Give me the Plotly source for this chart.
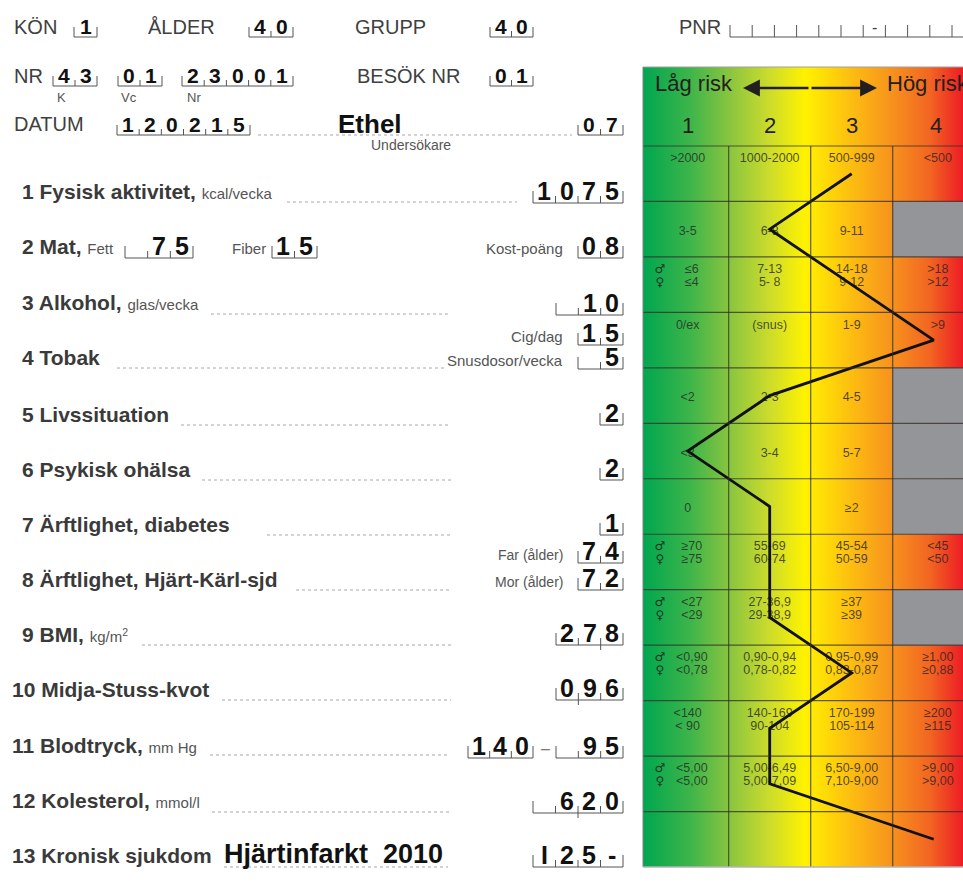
import plotly.graph_objects as go
import numpy as np

W, H = 963, 889
FONT = "Liberation Sans, Arial, Helvetica, sans-serif"
SYM_FONT = "DejaVu Sans, sans-serif"

# ---------------- data ----------------
# header fields
kon, alder, grupp = "1", "40", "40"
nr_k, nr_vc, nr_nr = "43", "01", "23001"
besok_nr = "01"
datum = "120215"
undersokare, undersokare_kod = "Ethel", "07"

# factor rows (1..13) and risk score per row
row_no = list(range(1, 14))
risk_score = [3, 2, 3, 4, 2, 1, 2, 2, 2, 3, 2, 2, 4]
risk_levels = ["1", "2", "3", "4"]

fysisk = "1075"
fett, fiber, kost = "75", "15", "08"
alkohol = "10"
cig_dag, snus_vecka = "15", "5"
livssituation, psykisk, arft_diabetes = "2", "2", "1"
far_alder, mor_alder = "74", "72"
bmi = "278"
midja_stuss = "096"
bt_sys, bt_dia = "140", "95"
kolesterol = "620"
kronisk_text, kronisk_kod = "Hjärtinfarkt\u00a0 2010", "I25-"

# reference ranges per row and risk level (None = grey cell)
cell_ranges = [
    [">2000", "1000-2000", "500-999", "<500"],
    ["3-5", "6-8", "9-11", None],
    ["≤6\n≤4", "7-13\n5- 8", "14-18\n9-12", ">18\n>12"],
    ["0/ex", "(snus)", "1-9", ">9"],
    ["<2", "2-3", "4-5", None],
    ["<3", "3-4", "5-7", None],
    ["0", "", "≥2", None],
    ["≥70\n≥75", "55-69\n60-74", "45-54\n50-59", "<45\n<50"],
    ["<27\n<29", "27-36,9\n29-38,9", "≥37\n≥39", None],
    ["<0,90\n<0,78", "0,90-0,94\n0,78-0,82", "0,95-0,99\n0,83-0,87", "≥1,00\n≥0,88"],
    ["<140\n< 90", "140-169\n90-104", "170-199\n105-114", "≥200\n≥115"],
    ["<5,00\n<5,00", "5,00-6,49\n5,00-7,09", "6,50-9,00\n7,10-9,00", ">9,00\n>9,00"],
    ["", "", "", ""],
]
gender_rows = [3, 8, 9, 10, 12]
text_anchor = ["top", "mid", "top", "top", "mid", "mid", "mid",
               "top", "top", "top", "top", "top", "mid"]

# ---------------- geometry helpers ----------------
COL_PX = 82.0
X_HALF_PX = 646.7           # pixel of x = 0.5
ROW_TOP_PX, ROW_BOT_PX = 146.0, 867.0
ROW_PX = (ROW_BOT_PX - ROW_TOP_PX) / 13
PANEL_L, PANEL_T = 643.0, 67.0


def ux(px):
    return 0.5 + (px - X_HALF_PX) / COL_PX


def uy(py):
    return 0.5 + (py - ROW_TOP_PX) / ROW_PX


XMIN, XMAX = ux(PANEL_L), ux(W)
YTOP, YBOT = uy(PANEL_T), 13.5

shapes, annotations = [], []


def X(px):
    return px / W


def Y(py):
    return 1 - py / H


def seg(x0, y0, x1, y1, color="#555", width=1, dash=None):
    shapes.append(dict(type="line", xref="paper", yref="paper",
                       x0=X(x0), y0=Y(y0), x1=X(x1), y1=Y(y1),
                       line=dict(color=color, width=width, dash=dash),
                       layer="above"))


def dotted(x0, x1, y):
    seg(x0, y, x1, y, "#a8a8a8", 1, "dot")


def label(px, baseline, s, size, color="#3a3a3a", xanchor="left"):
    annotations.append(dict(xref="paper", yref="paper", x=X(px),
                            y=Y(baseline + 0.212 * size + 1), text=s,
                            showarrow=False, xanchor=xanchor, yanchor="bottom",
                            font=dict(family=FONT, size=size, color=color)))


def comb(xl, xr, bottom, n, value, size, edge_h, inner_h, decimal_after=None):
    cw = (xr - xl) / n
    seg(xl, bottom, xr, bottom, "#555", 1)
    for i in range(n + 1):
        h = edge_h if i in (0, n) else inner_h
        seg(xl + i * cw, bottom, xl + i * cw, bottom - h, "#555", 1)
    if decimal_after is not None:
        xd = xl + decimal_after * cw
        seg(xd, bottom, xd, bottom + 5, "#555", 1)
    for i, ch in enumerate(value.rjust(n)):
        if ch.strip():
            label(xl + (i + 0.5) * cw, bottom - 2, f"<b>{ch}</b>", size, "#111",
                  xanchor="center")


HDR, HDRD = 20, 21      # header label / digit size
LAB, UNIT, DIG = 21, 15, 25
GREY = "#404040"
UNIT_C = "#555"


def unit(s):
    return f"<span style='font-size:{UNIT}px;color:{UNIT_C}'>{s}</span>"


# ---------------- header ----------------
label(12, 35, "KÖN", HDR, GREY)
comb(74, 97, 37, 1, kon, HDRD, 10, 6)
label(146, 35, "ÅLDER", HDR, GREY)
comb(249, 293, 37, 2, alder, HDRD, 10, 6)
label(353, 35, "GRUPP", HDR, GREY)
comb(490, 533, 37, 2, grupp, HDRD, 10, 6)
label(677, 35, "PNR", HDR, GREY)
seg(730, 37, W, 37, "#555", 1)
for i in range(12):
    xp = 730 + i * 22.2
    seg(xp, 37, xp, 25, "#555", 1)
label(730 + 6.5 * 22.2, 34, "-", 16, GREY, "center")

label(12, 84, "NR", HDR, GREY)
comb(53, 97, 86, 2, nr_k, HDRD, 10, 6)
label(55, 103, "K", 13, UNIT_C)
comb(118, 162, 86, 2, nr_vc, HDRD, 10, 6)
label(119, 103, "Vc", 13, UNIT_C)
comb(182, 293, 86, 5, nr_nr, HDRD, 10, 6)
label(185, 103, "Nr", 13, UNIT_C)
label(355, 84, "BESÖK NR", HDR, GREY)
comb(490, 533, 86, 2, besok_nr, HDRD, 10, 6)

label(12, 132, "DATUM", HDR, GREY)
comb(117, 250, 135, 6, datum, HDRD, 10, 6)
dotted(258, 572, 135)
label(370, 134, f"<b>{undersokare}</b>", 26, "#111", "center")
label(411, 151, "Undersökare", 14, UNIT_C, "center")
comb(578, 623, 135, 2, undersokare_kod, HDRD, 10, 6)

# ---------------- factor rows ----------------
label(20, 200, "<b>1 Fysisk aktivitet,</b> " + unit("kcal/vecka"), LAB)
dotted(287, 517, 202)
comb(533, 623, 203, 4, fysisk, DIG, 12, 7)

label(20, 255, "<b>2 Mat,</b> " + unit("Fett"), LAB)
comb(125, 193, 258, 3, fett, DIG, 12, 7)
label(230, 255, "Fiber", UNIT, UNIT_C)
comb(272, 317, 258, 2, fiber, DIG, 12, 7)
label(565, 255, "Kost-poäng", UNIT, UNIT_C, "right")
comb(578, 623, 258, 2, kost, DIG, 12, 7)

label(20, 311, "<b>3 Alkohol,</b> " + unit("glas/vecka"), LAB)
dotted(211, 451, 314)
comb(556, 623, 315, 3, alkohol, DIG, 12, 7)

label(20, 366, "<b>4 Tobak</b>", LAB)
dotted(117, 444, 368)
label(565, 343, "Cig/dag", UNIT, UNIT_C, "right")
comb(578, 623, 345, 2, cig_dag, DIG, 12, 7)
label(565, 367, "Snusdosor/vecka", UNIT, UNIT_C, "right")
comb(578, 623, 369, 2, snus_vecka, DIG, 12, 7)

label(20, 423, "<b>5 Livssituation</b>", LAB)
dotted(181, 451, 425)
comb(600, 623, 425, 1, livssituation, DIG, 12, 7)

label(20, 478, "<b>6 Psykisk ohälsa</b>", LAB)
dotted(202, 451, 480)
comb(600, 623, 480, 1, psykisk, DIG, 12, 7)

label(20, 533, "<b>7 Ärftlighet, diabetes</b>", LAB)
dotted(267, 451, 535)
comb(600, 623, 535, 1, arft_diabetes, DIG, 12, 7)

label(20, 588, "<b>8 Ärftlighet, Hjärt-Kärl-sjd</b>", LAB)
dotted(296, 451, 590)
label(565, 561, "Far (ålder)", 14, UNIT_C, "right")
comb(578, 623, 563, 2, far_alder, DIG, 12, 7)
label(565, 588, "Mor (ålder)", 14, UNIT_C, "right")
comb(578, 623, 590, 2, mor_alder, DIG, 12, 7)

label(20, 643, "<b>9 BMI,</b> " + unit("kg/m<sup>2</sup>"), LAB)
dotted(142, 451, 645)
comb(556, 623, 645, 3, bmi, DIG, 12, 7, decimal_after=2)

label(10, 698, "<b>10 Midja-Stuss-kvot</b>", LAB)
dotted(222, 451, 700)
comb(556, 623, 700, 3, midja_stuss, DIG, 12, 7, decimal_after=1)

label(10, 754, "<b>11 Blodtryck,</b> " + unit("mm Hg"), LAB)
dotted(210, 448, 755)
comb(468, 533, 758, 3, bt_sys, DIG, 12, 7)
label(545, 755, "–", 16, "#777", "center")
comb(556, 623, 758, 3, bt_dia, DIG, 12, 7)

label(10, 809, "<b>12 Kolesterol,</b> " + unit("mmol/l"), LAB)
dotted(212, 451, 812)
comb(533, 623, 813, 4, kolesterol, DIG, 12, 7, decimal_after=2)

label(10, 864, "<b>13 Kronisk sjukdom</b>", LAB)
label(222, 864, f"<b>{kronisk_text}</b>", 27, "#111")
dotted(224, 448, 867)
comb(533, 623, 867, 4, kronisk_kod, DIG, 12, 7)

# ---------------- risk panel ----------------
grad_stops_px = [(643, "#00a650"), (690, "#3db54a"), (728, "#86c440"),
                 (770, "#cddc2b"), (805, "#fff200"), (850, "#fdbf10"),
                 (890, "#f7941d"), (930, "#f26522"), (963, "#ed1c24")]
colorscale = [[(ux(p) - XMIN) / (XMAX - XMIN), c] for p, c in grad_stops_px]

xe = np.linspace(XMIN, XMAX, 321)
xc = (xe[:-1] + xe[1:]) / 2

fig = go.Figure()
fig.add_trace(go.Heatmap(x=xe, y=[YTOP, YBOT], z=[xc], colorscale=colorscale,
                         zmin=XMIN, zmax=XMAX, showscale=False, hoverinfo="skip"))

# grey (not applicable) cells and grid
for r, cells in zip(row_no, cell_ranges):
    for c, txt in enumerate(cells, start=1):
        if txt is None:
            shapes.append(dict(type="rect", xref="x", yref="y", x0=c - 0.5, x1=c + 1.0,
                               y0=r - 0.5, y1=r + 0.5, fillcolor="#939598",
                               line=dict(width=0), layer="above"))
GRID = "rgba(45,45,45,0.75)"
for k in range(1, 4):
    shapes.append(dict(type="line", xref="x", yref="y", x0=k + 0.5, x1=k + 0.5,
                       y0=0.5, y1=YBOT, line=dict(color=GRID, width=1.2), layer="above"))
for r in row_no:
    shapes.append(dict(type="line", xref="x", yref="y", x0=XMIN, x1=XMAX,
                       y0=r - 0.5, y1=r - 0.5, line=dict(color=GRID, width=1.2),
                       layer="above"))
# panel border
seg(PANEL_L, PANEL_T, W, PANEL_T, "#a0a0a0", 1)
seg(PANEL_L, PANEL_T, PANEL_L, ROW_BOT_PX, "#808080", 1)
seg(PANEL_L, ROW_BOT_PX, W, ROW_BOT_PX, "#b5b5b5", 1.5)

# cell range texts
tx, ty, tt = [], [], []
sx, sy, st = [], [], []
for r, cells, anc in zip(row_no, cell_ranges, text_anchor):
    for c, txt in enumerate(cells, start=1):
        if not txt:
            continue
        lines = txt.split("\n")
        for i, ln in enumerate(lines):
            if anc == "top":
                yy = r - 0.5 + (13 + 13 * i) / ROW_PX
            else:
                yy = r + 0.05
            xx = c + (0.05 if c == 4 else 0.0)
            if c == 1 and r in gender_rows:
                xx = 1.05
                sx.append(0.66); sy.append(yy); st.append("♂" if i == 0 else "♀")
            tx.append(xx); ty.append(yy); tt.append(ln)
fig.add_trace(go.Scatter(x=tx, y=ty, text=tt, mode="text", hoverinfo="skip",
                         textfont=dict(family=FONT, size=12.5, color="rgba(35,35,35,0.78)")))
fig.add_trace(go.Scatter(x=sx, y=sy, text=st, mode="text", hoverinfo="skip",
                         textfont=dict(family=SYM_FONT, size=12, color="rgba(25,25,25,0.85)")))

# risk profile line
fig.add_trace(go.Scatter(x=risk_score, y=row_no, mode="lines", hoverinfo="skip",
                         line=dict(color="#111", width=2.8)))

# panel header
annotations.append(dict(xref="x", yref="y", x=ux(653), y=uy(84), text="Låg risk",
                        showarrow=False, xanchor="left", yanchor="middle",
                        font=dict(family=FONT, size=22, color="#231f20")))
annotations.append(dict(xref="x", yref="y", x=ux(885), y=uy(84), text="Hög risk",
                        showarrow=False, xanchor="left", yanchor="middle",
                        font=dict(family=FONT, size=22, color="#231f20")))
for k, lv in enumerate(risk_levels, start=1):
    annotations.append(dict(xref="x", yref="y", x=k + (0.03 if k == 4 else 0), y=uy(126),
                            text=lv, showarrow=False, xanchor="center", yanchor="middle",
                            font=dict(family=FONT, size=22, color="#231f20")))
mid = ux(810)
for tip in (ux(743), ux(877)):
    annotations.append(dict(xref="x", yref="y", axref="x", ayref="y",
                            x=tip, y=uy(88), ax=mid, ay=uy(88), text="",
                            showarrow=True, arrowhead=2, arrowsize=1.3,
                            arrowwidth=2.6, arrowcolor="#231f20"))

fig.update_layout(
    width=W, height=H, autosize=False,
    margin=dict(l=0, r=0, t=0, b=0, pad=0),
    paper_bgcolor="white", plot_bgcolor="white",
    showlegend=False,
    font=dict(family=FONT),
    xaxis=dict(domain=[PANEL_L / W, 1], range=[XMIN, XMAX], visible=False, fixedrange=True),
    yaxis=dict(domain=[1 - ROW_BOT_PX / H, 1 - PANEL_T / H], range=[YBOT, YTOP],
               visible=False, fixedrange=True),
    shapes=shapes,
    annotations=annotations,
)

fig.write_html("out.html", config={"displayModeBar": False},
               post_script="document.body.style.margin='0';document.body.style.overflow='hidden';")
